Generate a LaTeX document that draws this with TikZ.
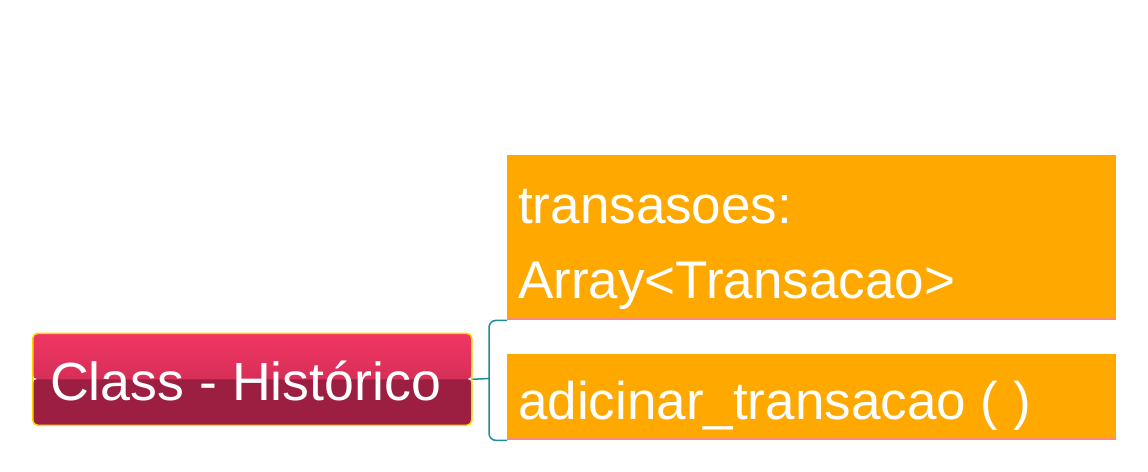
\documentclass[tikz,border=0pt]{standalone}
\usepackage{fontspec}
\setmainfont{Liberation Sans}
\definecolor{orangebox}{HTML}{FFA900}
\definecolor{pinkline}{HTML}{FF8A7A}
\definecolor{redtop}{HTML}{F23663}
\definecolor{redmid}{HTML}{D62F58}
\definecolor{reddark}{HTML}{9C1F42}
\definecolor{yellowb}{HTML}{FFD400}
\definecolor{tealc}{HTML}{1D8C96}
\begin{document}
\begin{tikzpicture}[x=1pt,y=-1pt,
  boxstyle/.style={fill=orangebox, draw=none, inner sep=0pt, anchor=north west},
  txt/.style={text=white, inner sep=0pt, anchor=base west, font=\fontsize{53}{60}\selectfont},
  conn/.style={draw=tealc, line width=1.5pt},
]
\useasboundingbox (0,0) rectangle (1148,471);
% class node
\node[inner sep=0pt, minimum width=439pt, minimum height=92pt, anchor=north west,
  rounded corners=5pt, draw=yellowb, line width=1.5pt,
  path picture={
    \fill[reddark] ([yshift=0.5pt]path picture bounding box.west) rectangle (path picture bounding box.south east);
    \shade[top color=redtop, bottom color=redmid] (path picture bounding box.west) rectangle (path picture bounding box.north east);
  }] (cls) at (32,332.5) {};
\node[txt, font=\fontsize{53.7}{60}\selectfont] (clst) at (50,400) {Class - Histórico};
% orange boxes
\node[boxstyle, minimum width=609pt, minimum height=165pt] (b1) at (507,155) {};
\fill[pinkline] ([yshift=2pt]b1.south west) rectangle (b1.south east);
\node[txt] (t1) at (518,223) {transasoes:};
\node[txt] (t2) at (518,298) {Array<Transacao>};
\node[boxstyle, minimum width=609pt, minimum height=86pt] (b2) at (507,354) {};
\fill[pinkline] ([yshift=2pt]b2.south west) rectangle (b2.south east);
\node[txt] (t3) at (518,419) {adicinar\_transacao ( )};
% connector
\coordinate (j) at (489,378.5);
\draw[conn, rounded corners=7pt] (b1.south west) -| (j) |- (b2.south west);
\draw[conn] (cls.east) -- (j);
\end{tikzpicture}
\end{document}
